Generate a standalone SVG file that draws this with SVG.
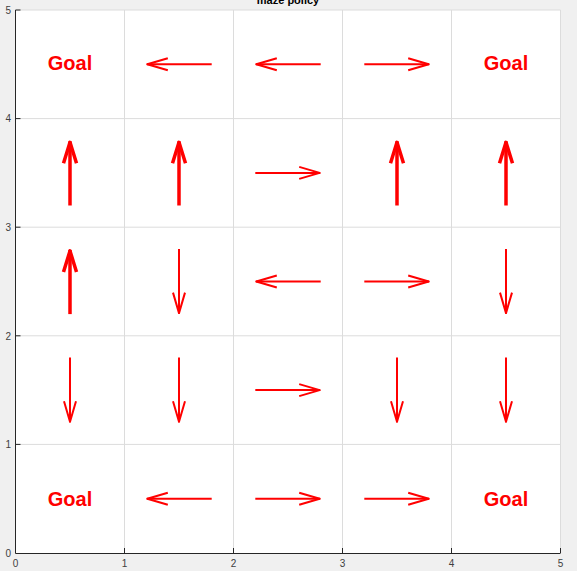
<svg xmlns="http://www.w3.org/2000/svg" width="577" height="571" viewBox="0 0 577 571">
<style>
.grid{stroke:#dcdcdc;stroke-width:1;fill:none}
.axis{stroke:#262626;stroke-width:1;fill:none}
.tick{font-family:"Liberation Sans",Arial,sans-serif;font-size:10px;fill:#404040}
.goal{font-family:"Liberation Sans",Arial,sans-serif;font-size:20px;font-weight:bold;fill:#ff0000;text-anchor:middle}
.thin{stroke:#ff0000;stroke-width:2;fill:none;marker-end:url(#h1)}
.thick{stroke:#ff0000;stroke-width:3.5;fill:none;marker-end:url(#h2)}
</style>
<defs>
<marker id="h1" markerUnits="userSpaceOnUse" viewBox="-24 -9 27 18" markerWidth="27" markerHeight="18" refX="0" refY="0" orient="auto" overflow="visible">
<path d="M-21,-6 L-0.5,0 L-21,6" fill="none" stroke="#ff0000" stroke-width="2" stroke-linejoin="round"/>
</marker>
<marker id="h2" markerUnits="userSpaceOnUse" viewBox="-24 -9 27 18" markerWidth="27" markerHeight="18" refX="0" refY="0" orient="auto" overflow="visible">
<path d="M-22,-6.5 L-1,0 L-22,6.5" fill="none" stroke="#ff0000" stroke-width="3.5" stroke-linejoin="round"/>
</marker>
</defs>
<rect width="577" height="571" fill="#f0f0f0"/>
<rect x="15.5" y="10" width="545" height="543" fill="#ffffff"/>
<g id="grid">
<path class="grid" d="M124.5,10V553M233.5,10V553M342.5,10V553M451.5,10V553M560.5,10V553M15.5,10H560.5M15.5,118.6H560.5M15.5,227.2H560.5M15.5,335.8H560.5M15.5,444.4H560.5"/>
</g>
<g id="axes">
<path class="axis" d="M15.5,10V553.5H560.5"/>
<path class="axis" d="M15.5,10h5M15.5,118.6h5M15.5,227.2h5M15.5,335.8h5M15.5,444.4h5M124.5,553v-5M233.5,553v-5M342.5,553v-5M451.5,553v-5M560.5,553v-5"/>
<g class="tick" text-anchor="middle">
<text x="15.5" y="567">0</text>
<text x="124.5" y="567">1</text>
<text x="233.5" y="567">2</text>
<text x="342.5" y="567">3</text>
<text x="451.5" y="567">4</text>
<text x="560.5" y="567">5</text>
</g>
<g class="tick" text-anchor="end">
<text x="11" y="557">0</text>
<text x="11" y="448">1</text>
<text x="11" y="340">2</text>
<text x="11" y="231">3</text>
<text x="11" y="122">4</text>
<text x="11" y="14">5</text>
</g>
<text x="288" y="3.5" font-family="Liberation Sans,Arial,sans-serif" font-size="11" font-weight="bold" fill="#000" text-anchor="middle">maze policy</text>
</g>
<g id="node-goal-0-4"><text class="goal" x="70" y="69.5">Goal</text></g>
<g id="node-goal-4-4"><text class="goal" x="506" y="69.5">Goal</text></g>
<g id="node-goal-0-0"><text class="goal" x="70" y="505.5">Goal</text></g>
<g id="node-goal-4-0"><text class="goal" x="506" y="505.5">Goal</text></g>
<g id="connectors">
<!-- row 4.5 -->
<path class="thin" d="M211.7,64.3H146.8"/>
<path class="thin" d="M320.7,64.3H255.8"/>
<path class="thin" d="M364.3,64.3H429.2"/>
<!-- row 3.5 -->
<path class="thick" d="M70,205.5V141.3"/>
<path class="thick" d="M179,205.5V141.3"/>
<path class="thin" d="M255.3,172.9H320.2"/>
<path class="thick" d="M397,205.5V141.3"/>
<path class="thick" d="M506,205.5V141.3"/>
<!-- row 2.5 -->
<path class="thick" d="M70,314.1V249.9"/>
<path class="thin" d="M179,248.9V313.6"/>
<path class="thin" d="M320.7,281.5H255.8"/>
<path class="thin" d="M364.3,281.5H429.2"/>
<path class="thin" d="M506,248.9V313.6"/>
<!-- row 1.5 -->
<path class="thin" d="M70,357.5V422.2"/>
<path class="thin" d="M179,357.5V422.2"/>
<path class="thin" d="M255.3,390.1H320.2"/>
<path class="thin" d="M397,357.5V422.2"/>
<path class="thin" d="M506,357.5V422.2"/>
<!-- row 0.5 -->
<path class="thin" d="M211.7,498.7H146.8"/>
<path class="thin" d="M255.3,498.7H320.2"/>
<path class="thin" d="M364.3,498.7H429.2"/>
</g>
</svg>
